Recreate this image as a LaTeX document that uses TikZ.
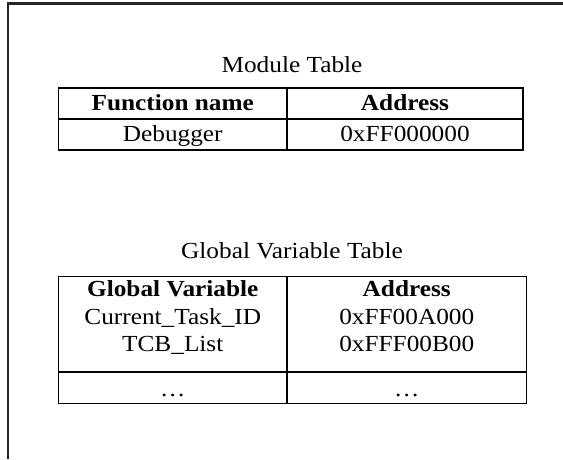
\documentclass[tikz,border=0pt]{standalone}
\usepackage{fontspec}
\setmainfont[FakeStretch=1.1]{Liberation Serif}
\begin{document}
\begin{tikzpicture}[x=1pt,y=-1pt,
  rule/.style={line width=1.8pt, line cap=rect},
  frameline/.style={line width=2.2pt, black!85},
  cell/.style={inner sep=0pt, anchor=base, font=\fontsize{23}{27}\selectfont},
  head/.style={cell, font=\fontsize{23}{27}\selectfont\bfseries},
  caption/.style={cell}]
\useasboundingbox (0,0) rectangle (563,459);
\fill[white] (0,0) rectangle (563,459);

% open frame: top and left edges
\coordinate (fTR) at (563,3.5);
\coordinate (fTL) at (8,3.5);
\coordinate (fBL) at (8,459);
\draw[frameline] (fTR) -- (fTL) -- (fBL);

% ---- Module Table ----
\node[caption] (mcap) at (292,72) {Module Table};
\coordinate (mA) at (58.5,88);
\coordinate (mB) at (523,150);
\draw[rule] (mA) rectangle (mB);
\draw[rule] (58.5,119) -- (523,119);
\draw[rule] (287,88) -- (287,150);
\node[head] (mh1) at (172.75,110.5) {Function name};
\node[head] (mh2) at (405,110.5) {Address};
\node[cell] (mr1) at (172.75,141) {Debugger};
\node[cell] (mr2) at (405,141) {0xFF000000};

% ---- Global Variable Table ----
\node[caption] (gcap) at (292,258) {Global Variable Table};
\coordinate (gA) at (58.5,276.5);
\coordinate (gB) at (526.5,403.5);
\draw[rule] (gA) rectangle (gB);
\draw[rule] (58.5,372) -- (526.5,372);
\draw[rule] (287,276.5) -- (287,403.5);
\node[head] (gh1) at (172.75,296.5) {Global Variable};
\node[head] (gh2) at (406.75,296.5) {Address};
\node[cell] (g11) at (172.75,324) {Current\_Task\_ID};
\node[cell] (g12) at (406.75,324) {0xFF00A000};
\node[cell] (g21) at (172.75,351.5) {TCB\_List};
\node[cell] (g22) at (406.75,351.5) {0xFFF00B00};
\node[cell] (g31) at (172.75,396) {\dots};
\node[cell] (g32) at (406.75,396) {\dots};
\end{tikzpicture}
\end{document}
